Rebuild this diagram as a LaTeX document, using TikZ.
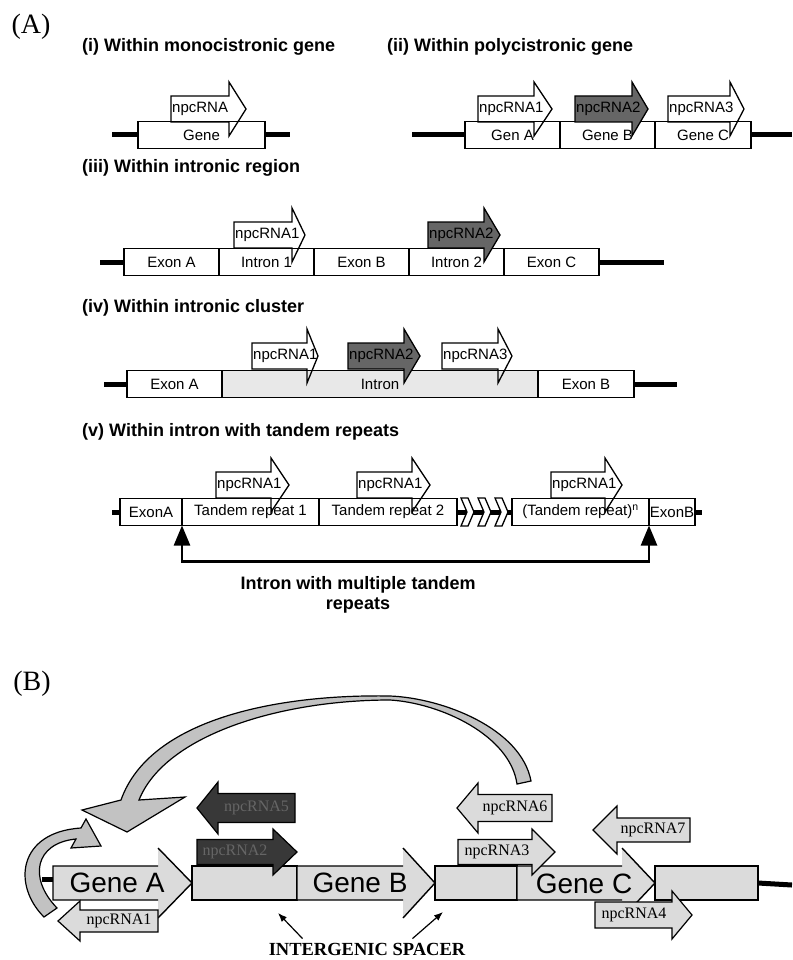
\documentclass[tikz,border=0pt]{standalone}
\usepackage{fontspec}
\setmainfont{Liberation Sans}
\newfontfamily\timesfont{Liberation Serif}
\usetikzlibrary{calc, arrows.meta, positioning}

\definecolor{npcLight}{gray}{0.86}
\definecolor{npcIntron}{gray}{0.91}
\definecolor{npcDark}{gray}{0.40}
\definecolor{npcDarker}{gray}{0.22}
\definecolor{npcArc}{gray}{0.76}

\tikzset{
  npc/panel/.style={font=\timesfont\fontsize{28}{30}\selectfont, inner sep=0pt},
  npc/title/.style={font=\bfseries\fontsize{18}{20}\selectfont, anchor=west, inner sep=0pt, align=center},
  npc/box/.style={draw, line width=1.3pt, minimum height=27, inner sep=0pt, outer sep=0pt, font=\fontsize{15}{17}\selectfont},
  npc/dna/.style={line width=5pt},
  npc/open/.style={draw, line width=1.3pt},
  npc/dark/.style={draw, line width=1.3pt, fill=npcDark},
  npc/label/.style={font=\fontsize{15}{17}\selectfont, inner sep=0pt, anchor=west},
  npc/chev/.style={draw, line width=1.3pt, fill=white},
  npc/bracket/.style={line width=2.5pt, {Triangle[length=20pt,width=16pt]}-{Triangle[length=20pt,width=16pt]}},
  npc/gfill/.style={fill=npcLight},
  npc/gline/.style={line width=1.4pt},
  npc/spacer/.style={draw, line width=1.4pt, fill=npcLight, minimum height=34, inner sep=0pt, outer sep=0pt},
  npc/gene/.style={font=\fontsize{28}{30}\selectfont, inner sep=0pt},
  npc/bl/.style={draw, line width=1.2pt, fill=npcLight},
  npc/bd/.style={draw, line width=1.2pt, fill=npcDarker},
  npc/blabel/.style={font=\timesfont\fontsize{16}{18}\selectfont, inner sep=0pt},
  npc/ribbon/.style={draw, line width=1.2pt, fill=npcArc},
  npc/ptr/.style={line width=1.2pt, -{Latex[length=9pt,width=7pt]}},
  npc/note/.style={font=\timesfont\bfseries\fontsize{18.5}{20}\selectfont, inner sep=0pt},
}

% arrow shape: style, tail x, head base x, tip x, mid y, body half, head half
\newcommand{\npcarrow}[7]{%
  \draw[#1] (#2,#5-#6) -- (#3,#5-#6) -- (#3,#5-#7) -- (#4,#5) -- (#3,#5+#7) -- (#3,#5+#6) -- (#2,#5+#6) -- cycle;}
% gene shape in (B): left x, head base x, tip x
\newcommand{\npcgene}[3]{%
  \fill[npc/gfill] (#1,866) -- (#2,866) -- (#2,848) -- (#3,883) -- (#2,918) -- (#2,900) -- (#1,900) -- cycle;
  \draw[npc/gline] (#2,866) -- (#1,866) -- (#1,900) -- (#2,900) (#2,848) -- (#3,883) -- (#2,918);}

\begin{document}
\begin{tikzpicture}[x=1pt, y=-1pt]
  \useasboundingbox (0,0) rectangle (792,960);

  \node[npc/panel] (pA) at (31,27) {(A)};

  % (i) monocistronic
  \node[npc/title] (ti) at (82,47) {(i) Within monocistronic gene};
  \node[npc/box, minimum width=127] (gene) at (201.5,135) {Gene};
  \coordinate (iL) at (112,135);
  \coordinate (iR) at (290,135);
  \draw[npc/dna] (iL) -- (gene.west) (gene.east) -- (iR);
  \npcarrow{npc/open}{171}{229}{246}{109}{13}{27}
  \node[npc/label] (ia) at (172,109) {npcRNA};

  % (ii) polycistronic
  \node[npc/title] (tii) at (387,47) {(ii) Within polycistronic gene};
  \node[npc/box, minimum width=95] (genA) at (512.5,135) {Gen A};
  \node[npc/box, minimum width=95, anchor=west] (genB) at (genA.east) {Gene B};
  \node[npc/box, minimum width=96, anchor=west] (genC) at (genB.east) {Gene C};
  \coordinate (iiL) at (412,135);
  \coordinate (iiR) at (792,135);
  \draw[npc/dna] (iiL) -- (genA.west) (genC.east) -- (iiR);
  \npcarrow{npc/open}{478}{534}{552}{109}{13}{27}
  \npcarrow{npc/dark}{575}{632}{648}{109}{13}{27}
  \npcarrow{npc/open}{668}{730}{744}{109}{13}{27}
  \node[npc/label] (iia) at (479,109) {npcRNA1};
  \node[npc/label] (iib) at (576,109) {npcRNA2};
  \node[npc/label] (iic) at (669,109) {npcRNA3};

  % (iii) intronic region
  \node[npc/title] (tiii) at (82,168) {(iii) Within intronic region};
  \node[npc/box, minimum width=95] (exA) at (171.5,262) {Exon A};
  \node[npc/box, minimum width=95, anchor=west] (inA) at (exA.east) {Intron 1};
  \node[npc/box, minimum width=95, anchor=west] (exB) at (inA.east) {Exon B};
  \node[npc/box, minimum width=95, anchor=west] (inB) at (exB.east) {Intron 2};
  \node[npc/box, minimum width=95, anchor=west] (exC) at (inB.east) {Exon C};
  \coordinate (iiiL) at (100,262);
  \coordinate (iiiR) at (664,262);
  \draw[npc/dna] (iiiL) -- (exA.west) (exC.east) -- (iiiR);
  \npcarrow{npc/open}{234}{292}{305}{235}{13}{27}
  \npcarrow{npc/dark}{428}{484}{500}{235}{13}{27}
  \node[npc/label] (iiia) at (235,235) {npcRNA1};
  \node[npc/label] (iiib) at (429,235) {npcRNA2};

  % (iv) intronic cluster
  \node[npc/title] (tiv) at (82,308) {(iv) Within intronic cluster};
  \node[npc/box, minimum width=95] (xA) at (174.5,384) {Exon A};
  \node[npc/box, minimum width=316, fill=npcIntron, anchor=west] (intr) at (xA.east) {Intron};
  \node[npc/box, minimum width=96, anchor=west] (xB) at (intr.east) {Exon B};
  \coordinate (ivL) at (104,384);
  \coordinate (ivR) at (677,384);
  \draw[npc/dna] (ivL) -- (xA.west) (xB.east) -- (ivR);
  \npcarrow{npc/open}{252}{307}{318}{356}{13}{27}
  \npcarrow{npc/dark}{348}{404}{420}{356}{13}{27}
  \npcarrow{npc/open}{442}{498}{512}{356}{13}{27}
  \node[npc/label] (iva) at (253,356) {npcRNA1};
  \node[npc/label] (ivb) at (349,356) {npcRNA2};
  \node[npc/label] (ivc) at (443,356) {npcRNA3};

  % (v) tandem repeats
  \node[npc/title] (tv) at (82,432) {(v) Within intron with tandem repeats};
  \node[npc/box, minimum width=62] (eA) at (151,512) {ExonA};
  \node[npc/box, minimum width=137, anchor=west] (tr1) at (eA.east) {Tandem repeat 1};
  \node[npc/box, minimum width=138, anchor=west] (tr2) at (tr1.east) {Tandem repeat 2};
  \node[npc/box, minimum width=137] (trn) at (580.5,512) {(Tandem repeat)\textsuperscript{n}};
  \node[npc/box, minimum width=46, anchor=west] (eB) at (trn.east) {ExonB};
  \coordinate (vL) at (112,512);
  \coordinate (vR) at (702,512);
  \draw[npc/dna] (vL) -- (eA.west) (tr2.east) -- (trn.west) (eB.east) -- (vR);
  \foreach \cx in {461,478,495}
    \draw[npc/chev] (\cx,498) -- ++(7,0) -- ++(6,14) -- ++(-6,14) -- ++(-7,0) -- ++(6,-14) -- cycle;
  \npcarrow{npc/open}{216}{271}{289}{485}{13}{27}
  \npcarrow{npc/open}{357}{412}{430}{485}{13}{27}
  \npcarrow{npc/open}{551}{605}{622}{485}{13}{27}
  \node[npc/label] (va) at (217,485) {npcRNA1};
  \node[npc/label] (vb) at (358,485) {npcRNA1};
  \node[npc/label] (vc) at (552,485) {npcRNA1};
  \draw[npc/bracket] (tr1.south west) -- ++(0,36) -| (trn.south east);
  \node[npc/title, anchor=center] (vnote) at (358,595) {Intron with multiple tandem\\repeats};

  \node[npc/panel] (pB) at (32,684) {(B)};

  % (B) genes and spacers
  \coordinate (bL) at (42,879);
  \coordinate (bA) at (53,879);
  \coordinate (bR) at (792,885);
  \draw[npc/dna] (bL) -- (bA);
  \npcgene{53}{158}{192}
  \node[npc/spacer, minimum width=105] (sp1) at (244.5,883) {};
  \npcgene{297}{403}{435}
  \node[npc/spacer, minimum width=82] (sp2) at (476,883) {};
  \npcgene{517}{622}{655}
  \node[npc/spacer, minimum width=103] (sp3) at (706.5,883) {};
  \draw[npc/dna] (sp3.east) -- (bR);
  \node[npc/gene] (gA) at (117,883) {Gene A};
  \node[npc/gene] (gB) at (360,883) {Gene B};
  \node[npc/gene] (gC) at (584,884) {Gene C};

  % npcRNAs in (B)
  \npcarrow{npc/bl}{158}{80}{58}{921}{11}{20}
  \node[npc/blabel] (b1) at (119,921) {npcRNA1};
  \npcarrow{npc/bd}{295}{218}{197}{808}{14.5}{26}
  \node[npc/blabel, text=black!60] (b5) at (256.5,808) {npcRNA5};
  \npcarrow{npc/bd}{197}{273}{297}{852}{12.5}{23}
  \node[npc/blabel, text=black!60] (b2) at (235,852) {npcRNA2};
  \npcarrow{npc/bl}{552}{478}{457}{808}{13.5}{25}
  \node[npc/blabel] (b6) at (515,808) {npcRNA6};
  \npcarrow{npc/bl}{458}{532}{555}{852}{12.5}{23}
  \node[npc/blabel] (b3) at (497,852) {npcRNA3};
  \npcarrow{npc/bl}{690}{617}{593}{830}{12}{24}
  \node[npc/blabel] (b7) at (653,830) {npcRNA7};
  \npcarrow{npc/bl}{595}{672}{692}{915}{13}{24}
  \node[npc/blabel] (b4) at (634,915) {npcRNA4};

  % curved arrows
  \draw[npc/ribbon] (517,784) .. controls (510,735) and (440,703) .. (390,700)
    .. controls (280,700) and (165,735) .. (139,800) -- (185,797) -- (127,832) -- (82,810) -- (121,800)
    .. controls (150,718) and (280,694) .. (390,696) .. controls (442,698) and (521,728) .. (531,781) -- cycle;
  \draw[npc/ribbon] (44,917) .. controls (12,885) and (18,832) .. (81,828) -- (86,819) -- (101,846)
    -- (71,848) -- (76,839) .. controls (35,843) and (28,878) .. (57,908) -- cycle;

  % spacer note
  \node[npc/note] (isp) at (367,949) {INTERGENIC SPACER};
  \draw[npc/ptr] ([xshift=34pt,yshift=4pt]isp.north west) -- ([xshift=33.5pt,yshift=-13pt]sp1.south);
  \draw[npc/ptr] ([xshift=-53pt,yshift=4pt]isp.north east) -- ([xshift=-33pt,yshift=-12pt]sp2.south);
\end{tikzpicture}
\end{document}
